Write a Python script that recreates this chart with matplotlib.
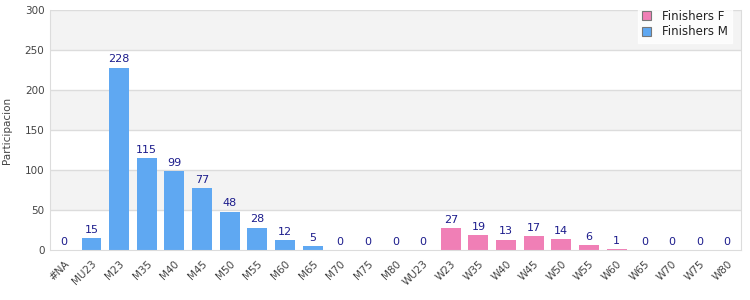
import matplotlib
matplotlib.use("Agg")
import matplotlib.pyplot as plt
import numpy as np

categories = ["#NA", "MU23", "M23", "M35", "M40", "M45", "M50", "M55", "M60", "M65",
              "M70", "M75", "M80", "WU23", "W23", "W35", "W40", "W45", "W50", "W55",
              "W60", "W65", "W70", "W75", "W80"]
finishers_m = [0, 15, 228, 115, 99, 77, 48, 28, 12, 5, 0, 0, 0, 0,
               0, 0, 0, 0, 0, 0, 0, 0, 0, 0, 0]
finishers_f = [0, 0, 0, 0, 0, 0, 0, 0, 0, 0, 0, 0, 0, 0,
               27, 19, 13, 17, 14, 6, 1, 0, 0, 0, 0]
y_ticks = [0, 50, 100, 150, 200, 250, 300]

blue = "#5fa8f2"
pink = "#f07fb6"
label_color = "#1c1c8c"
grid_color = "#dcdcdc"

fig = plt.figure(figsize=(7.5, 3.0), dpi=100)
ax = fig.add_axes([50/750, 50/300, 691/750, 240/300])

x = np.arange(len(categories))
for i in range(len(y_ticks) - 1):
    if i % 2 == 1:
        ax.axhspan(y_ticks[i], y_ticks[i+1], color="#f3f3f3", zorder=0, lw=0)
for t in y_ticks[1:]:
    ax.axhline(t, color=grid_color, lw=1, zorder=1)

bf = ax.bar(x, finishers_f, width=0.72, color=pink, zorder=2, label="Finishers F")
bm = ax.bar(x, finishers_m, width=0.72, bottom=finishers_f, color=blue, zorder=2, label="Finishers M")

totals = [m + f for m, f in zip(finishers_m, finishers_f)]
for xi, t in zip(x, totals):
    ax.text(xi, t + 4, str(t), ha="center", va="bottom", fontsize=8,
            color=label_color, zorder=3)

ax.set_xlim(-0.5, len(categories) - 0.5)
ax.set_ylim(0, 300)
ax.set_yticks(y_ticks)
ax.set_xticks(x)
ax.set_xticklabels(categories, rotation=45, ha="right", rotation_mode="anchor")
ax.tick_params(axis="both", length=0, labelsize=7.5, colors="#444444", pad=4)
ax.tick_params(axis="x", pad=6)
for s in ["left", "bottom", "right", "top"]:
    ax.spines[s].set_color(grid_color)
ax.spines["top"].set_visible(False)
ax.set_ylabel("Participacion", fontsize=7.5, color="#444444", labelpad=9)

leg = fig.legend(handles=[bf, bm], loc="upper right", bbox_to_anchor=(738/750, 1.0),
                 fontsize=8.5, frameon=True, fancybox=False, borderpad=0.35,
                 handlelength=0.8, handleheight=0.8, handletextpad=0.9, labelspacing=0.2)
leg.get_frame().set_edgecolor("white")
leg.get_frame().set_facecolor("white")
for h in leg.legend_handles:
    h.set_edgecolor("#777777")
    h.set_linewidth(0.8)
for txt in leg.get_texts():
    txt.set_color("#222222")

fig.savefig("out.png", dpi=100)
